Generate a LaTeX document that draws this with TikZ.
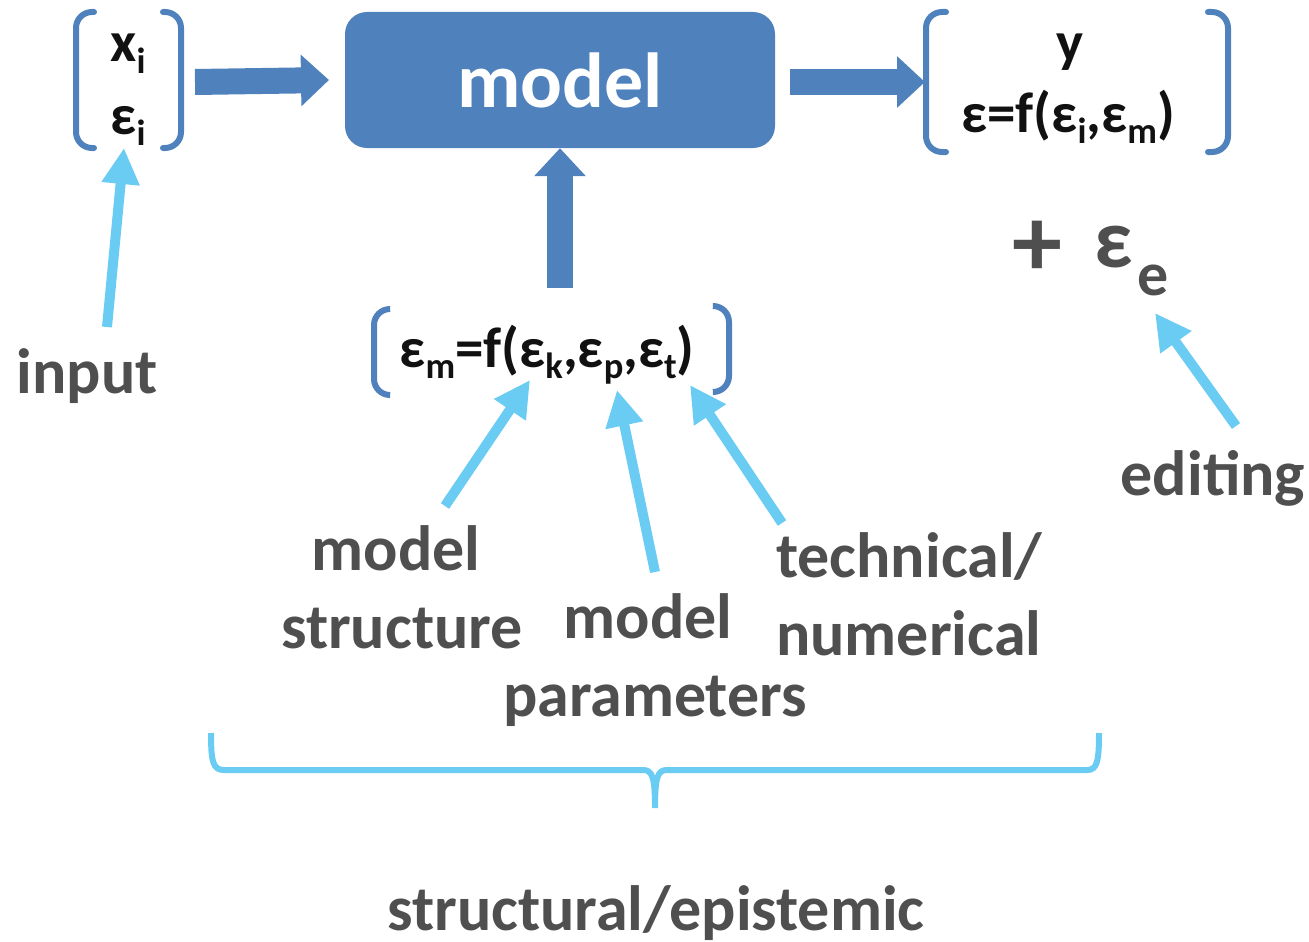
\documentclass[tikz,border=0pt]{standalone}
\usepackage{fontspec}
\usepackage{graphicx}
\setmainfont{Carlito}
\usetikzlibrary{arrows.meta}

\definecolor{boxblue}{HTML}{4F81BD}
\definecolor{skyblue}{HTML}{6BCCF3}
\definecolor{labelgray}{HTML}{4F4F4F}
\definecolor{formulablack}{HTML}{111111}

% lowered, smaller index
\newcommand{\lowsub}[1]{\raisebox{-0.2em}{\scalebox{0.64}{#1}}}

\tikzset{
  formula/.style={font=\fontsize{57}{60}\selectfont\bfseries, text=formulablack, inner sep=0pt, anchor=base},
  caption/.style={font=\fontsize{64}{74}\selectfont\bfseries, text=labelgray, inner sep=0pt, anchor=base},
  modelbox/.style={fill=boxblue, rounded corners=22pt, minimum width=430pt, minimum height=136pt,
                   text=white, font=\fontsize{78}{80}\selectfont\bfseries, inner sep=0pt},
  bracket/.style={draw=boxblue, line width=6pt, rounded corners=16pt, line cap=round},
  blockarrow/.style={draw=boxblue, line width=26pt, -{Triangle[width=50pt,length=28pt]}},
  pointer/.style={draw=skyblue, line width=10pt, -{Triangle[width=36pt,length=36pt]}},
}

\begin{document}
\begin{tikzpicture}[x=1pt,y=-1pt]
\useasboundingbox (0,0) rectangle (1309,942);

% input vector
\node[formula] (xi) at (128,62) {x\lowsub{i}};
\node[formula] (ei) at (128,134) {ε\lowsub{i}};
\draw[bracket] (94,12) -- (76,12) -- (76,148) -- (94,148);
\draw[bracket] (163,12) -- (181,12) -- (181,148) -- (163,148);
\coordinate (inR) at (195,82);

% model
\node[modelbox] (model) at (560,80) {model};

% output vector
\node[formula] (y) at (1070,62) {y};
\node[formula] (eout) at (1068,132) {ε=f(ε\lowsub{i},ε\lowsub{m})};
\draw[bracket] (946,12) -- (926,12) -- (926,152) -- (946,152);
\draw[bracket] (1208,12) -- (1228,12) -- (1228,152) -- (1208,152);
\coordinate (outL) at (925,82);

% model error vector
\node[formula] (em) at (547,367) {ε\lowsub{m}=f(ε\lowsub{k},ε\lowsub{p},ε\lowsub{t})};
\draw[bracket] (389,309) -- (374,309) -- (374,395) -- (389,395);
\draw[bracket] (714,306) -- (729,306) -- (729,392) -- (714,392);
\coordinate (emTop) at (560,288);

% block arrows
\draw[blockarrow] (inR) -- (model.west -| 329,0);
\draw[blockarrow] (model.east |- 0,82) ++(15,0) coordinate (mR) -- (outL);
\draw[blockarrow] (emTop) -- (model.south);

% editing error
\node[caption, font=\fontsize{100}{100}\selectfont\bfseries] (plus) at (1037,276) {+};
\node[caption, font=\fontsize{84}{90}\selectfont\bfseries] (ee) at (1114,267) {ε};
\node[caption, font=\fontsize{62}{66}\selectfont\bfseries, anchor=base west] (esub) at (1137,295) {e};

% captions
\node[caption] (input) at (87,393) {input};
\node[caption] (ms1) at (396,570) {model};
\node[caption] (ms2) at (402,648) {structure};
\node[caption] (mp1) at (648,638) {model};
\node[caption] (mp2) at (655,716) {parameters};
\node[caption, anchor=base west] (tn1) at (776,577) {technical/};
\node[caption, anchor=base west] (tn2) at (776,655) {numerical};
\node[caption] (edit) at (1213,495) {editing};
\node[caption] (epi) at (656,930) {structural/epistemic};

% pointer targets
\coordinate (tIn) at (124,148);
\coordinate (tK) at (530,380);
\coordinate (tP) at (617,390);
\coordinate (tT) at (690,385);
\coordinate (tE) at (1155,313);
\coordinate (sIn) at (107,327);
\coordinate (sK) at (445,506);
\coordinate (sP) at (655,572);
\coordinate (sT) at (782,523);
\coordinate (sE) at (1236,426);

\draw[pointer] (sIn) -- (tIn);
\draw[pointer] (sK) -- (tK);
\draw[pointer] (sP) -- (tP);
\draw[pointer] (sT) -- (tT);
\draw[pointer] (sE) -- (tE);

% brace grouping the model error sources
\draw[skyblue, line width=6pt]
  (211,733) .. controls (211,762) and (213,770) .. (224,770) -- (643,770)
  .. controls (652,770) and (655,776) .. (655,808)
  .. controls (655,776) and (658,770) .. (667,770) -- (1087,770)
  .. controls (1097,770) and (1099,762) .. (1099,733);
\end{tikzpicture}
\end{document}
